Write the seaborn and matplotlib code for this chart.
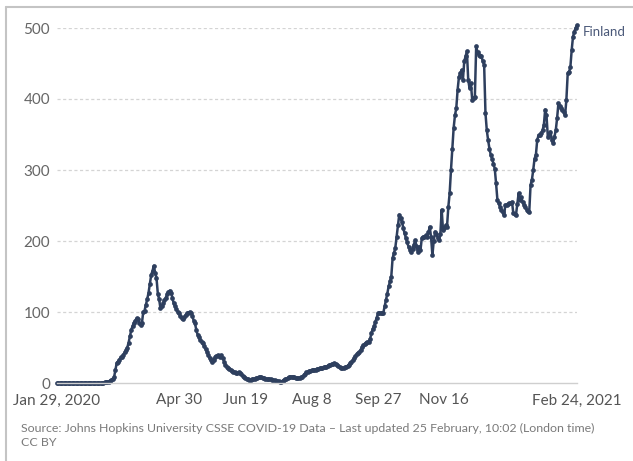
import numpy as np
import pandas as pd
import matplotlib
matplotlib.use("Agg")
import matplotlib.pyplot as plt
import matplotlib.dates as mdates
import seaborn as sns

# ---- data ----
start_date = "2020-01-29"
series_name = "Finland"
values = [
    0, 0, 0, 0, 0, 0, 0, 0, 0, 0,
    0, 0, 0, 0, 0, 0, 0, 0, 0, 0,
    0, 0, 0, 0, 0, 0, 0, 0, 0, 0,
    0, 0, 0, 0, 0, 0, 1, 1, 2, 2,
    3, 4, 6, 8, 18, 28, 30, 33, 36, 37,
    40, 43, 46, 50, 57, 66, 75, 80, 85, 88,
    91, 90, 85, 82, 84, 100, 102, 110, 118, 127,
    140, 152, 158, 165, 155, 148, 126, 118, 105, 108,
    112, 117, 120, 125, 128, 130, 127, 120, 112, 108,
    104, 100, 98, 94, 91, 90, 93, 96, 98, 99,
    100, 99, 95, 88, 84, 75, 68, 65, 60, 58,
    56, 52, 48, 44, 40, 35, 32, 30, 33, 36,
    38, 39, 38, 37, 39, 35, 30, 26, 23, 21,
    20, 18, 17, 16, 15, 14, 14, 15, 14, 12,
    10, 9, 7, 6, 5, 4, 4, 5, 5, 6,
    7, 7, 8, 8, 8, 7, 7, 6, 6, 5,
    5, 5, 4, 4, 4, 3, 3, 3, 2, 2,
    3, 4, 5, 6, 7, 8, 9, 9, 8, 8,
    7, 7, 7, 7, 8, 9, 11, 13, 15, 16,
    17, 17, 18, 18, 19, 19, 20, 20, 21, 21,
    21, 22, 22, 23, 24, 25, 26, 27, 27, 28,
    27, 26, 24, 22, 21, 21, 21, 22, 23, 24,
    26, 28, 30, 32, 35, 38, 41, 42, 44, 47,
    51, 53, 55, 57, 58, 58, 62, 70, 76, 80,
    86, 92, 98, 99, 99, 99, 99, 108, 117, 126,
    136, 143, 150, 176, 183, 190, 206, 222, 237, 232,
    227, 219, 211, 204, 198, 192, 188, 185, 189, 195,
    201, 193, 185, 192, 187, 204, 206, 206, 208, 206,
    212, 220, 205, 180, 200, 213, 210, 204, 201, 210,
    244, 215, 218, 222, 220, 248, 267, 300, 330, 359,
    377, 387, 413, 431, 436, 441, 427, 453, 460, 467,
    427, 415, 422, 399, 401, 403, 474, 466, 462, 461,
    460, 453, 448, 380, 356, 342, 330, 321, 316, 309,
    302, 281, 258, 253, 248, 244, 241, 236, 251, 251,
    252, 253, 254, 255, 239, 238, 237, 252, 267, 258,
    262, 255, 251, 248, 244, 242, 241, 279, 286, 300,
    316, 321, 342, 349, 349, 352, 356, 363, 385, 377,
    347, 350, 354, 342, 338, 347, 356, 373, 394, 390,
    387, 385, 382, 377, 399, 436, 438, 445, 469, 488,
    495, 500, 504,
]
tick_dates = ["2020-01-29", "2020-04-30", "2020-06-19", "2020-08-08",
              "2020-09-27", "2020-11-16", "2021-01-05", "2021-02-24"]
tick_labels = ["Jan 29, 2020", "Apr 30", "Jun 19", "Aug 8",
               "Sep 27", "Nov 16", "", "Feb 24, 2021"]
y_ticks = [0, 100, 200, 300, 400, 500]
source_text = ("Source: Johns Hopkins University CSSE COVID-19 Data \u2013 "
               "Last updated 25 February, 10:02 (London time)")
license_text = "CC BY"

dates = pd.date_range(start_date, periods=len(values), freq="D")
df = pd.DataFrame({"date": dates, "value": values})

# ---- style ----
sns.set_style("white")
plt.rcParams["font.family"] = ["Lato", "DejaVu Sans"]

W, H = 633, 461
fig = plt.figure(figsize=(W / 100, H / 100), dpi=100)
ax = fig.add_axes([57 / W, (H - 383) / H, 520 / W, 355 / H])

line_color = "#2e3f5e"
sns.lineplot(data=df, x="date", y="value", ax=ax, color=line_color,
             linewidth=1.8, marker="o", markersize=3.4,
             markeredgewidth=0, clip_on=False)

ax.set_xlim(pd.Timestamp("2020-01-29"), pd.Timestamp("2021-02-24"))
ax.set_ylim(0, 500)

# grid lines
for yv in y_ticks[1:]:
    ax.axhline(yv, color="#d4d4d4", linewidth=0.9, linestyle=(0, (2.5, 2)),
               zorder=0)

for s in ["top", "right", "left"]:
    ax.spines[s].set_visible(False)
ax.spines["bottom"].set_color("#cfcfcf")
ax.spines["bottom"].set_linewidth(1.0)

ax.set_yticks(y_ticks)
ax.set_yticklabels([str(v) for v in y_ticks])
ax.set_xticks([pd.Timestamp(d) for d in tick_dates])
ax.set_xticklabels(tick_labels)
ax.tick_params(axis="y", length=0, pad=5, labelsize=11, labelcolor="#666666")
ax.tick_params(axis="x", length=5, width=1, color="#cfcfcf", pad=2.5,
               labelsize=11, labelcolor="#555555")
ax.set_xlabel("")
ax.set_ylabel("")

# series label
ax.text(1.011, values[-1] / 500.0 - 0.018, series_name,
        transform=ax.transAxes, fontsize=9.5, color="#4a5878",
        ha="left", va="center")

# source text
fig.text(21 / W, 1 - 428 / H, source_text, fontsize=8.9, color="#7a7a7a",
         ha="left", va="center")
fig.text(21 / W, 1 - 442 / H, license_text, fontsize=8.9, color="#7a7a7a",
         ha="left", va="center")

# outer frame (left and top edges)
fig.add_artist(plt.Line2D([6 / W, 6 / W], [0, 1 - 7 / H], color="#c4c4c4",
                          linewidth=1.5, transform=fig.transFigure))
fig.add_artist(plt.Line2D([6 / W, 1], [1 - 7 / H, 1 - 7 / H], color="#c4c4c4",
                          linewidth=1.5, transform=fig.transFigure))

fig.savefig("out.png", dpi=100)
